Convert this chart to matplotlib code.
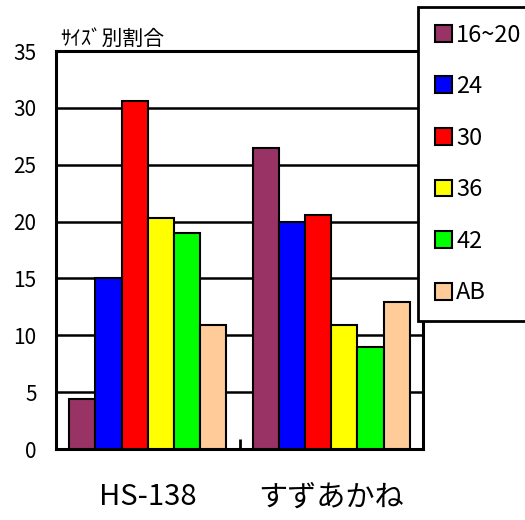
import matplotlib.pyplot as plt
import numpy as np

plt.rcParams['font.family'] = ['Noto Sans CJK JP', 'DejaVu Sans']

# data
varieties = ['HS-138', 'すずあかね']
size_labels = ['16~20', '24', '30', '36', '42', 'AB']
s16_20 = [4.4, 26.5]
s24 = [15.0, 20.0]
s30 = [30.6, 20.6]
s36 = [20.3, 10.9]
s42 = [19.0, 9.0]
s_ab = [10.9, 12.9]
colors = ['#993366', '#0000ff', '#ff0000', '#ffff00', '#00ff00', '#ffcc99']


def main():
    series = [s16_20, s24, s30, s36, s42, s_ab]

    fig = plt.figure(figsize=(5.25, 5.2), dpi=100)
    ax = fig.add_axes([56 / 525, 1 - 449 / 520, (423 - 56) / 525, (449 - 51) / 520])

    index = np.arange(len(varieties))
    bar_width = 0.143
    for i, vals in enumerate(series):
        ax.bar(index + (i - 2.5) * bar_width, vals, width=bar_width, color=colors[i],
               edgecolor='black', linewidth=1.5, label=size_labels[i], zorder=3)

    ax.set_xlim(-0.5, 1.5)
    ax.set_ylim(0, 35)
    ax.set_yticks(range(0, 36, 5))
    ax.yaxis.grid(True, color='black', linewidth=1.8, zorder=0)
    ax.set_axisbelow(True)
    for sp in ax.spines.values():
        sp.set_linewidth(2.2)

    ax.set_xticks(index)
    ax.set_xticklabels(varieties, fontsize=21)
    ax.set_xticks([0.5], minor=True)
    ax.tick_params(axis='x', which='major', length=0, pad=24)
    ax.tick_params(axis='x', which='minor', direction='in', length=7, width=2)
    ax.tick_params(axis='y', length=0, pad=14, labelsize=15)

    fig.text(60 / 525, 1 - 45 / 520, 'ｻｲｽﾞ別割合', fontsize=15, va='baseline')

    leg = fig.legend(loc='upper left', bbox_to_anchor=(418 / 525, 1 - 7 / 520),
                     fancybox=False, edgecolor='black', framealpha=1, fontsize=17,
                     handlelength=0.72, handleheight=0.72, handletextpad=0.2,
                     labelspacing=1.21, borderpad=0.7, borderaxespad=0)
    leg.get_frame().set_linewidth(2)

    plt.savefig('out.png', dpi=100)


if __name__ == '__main__':
    main()
